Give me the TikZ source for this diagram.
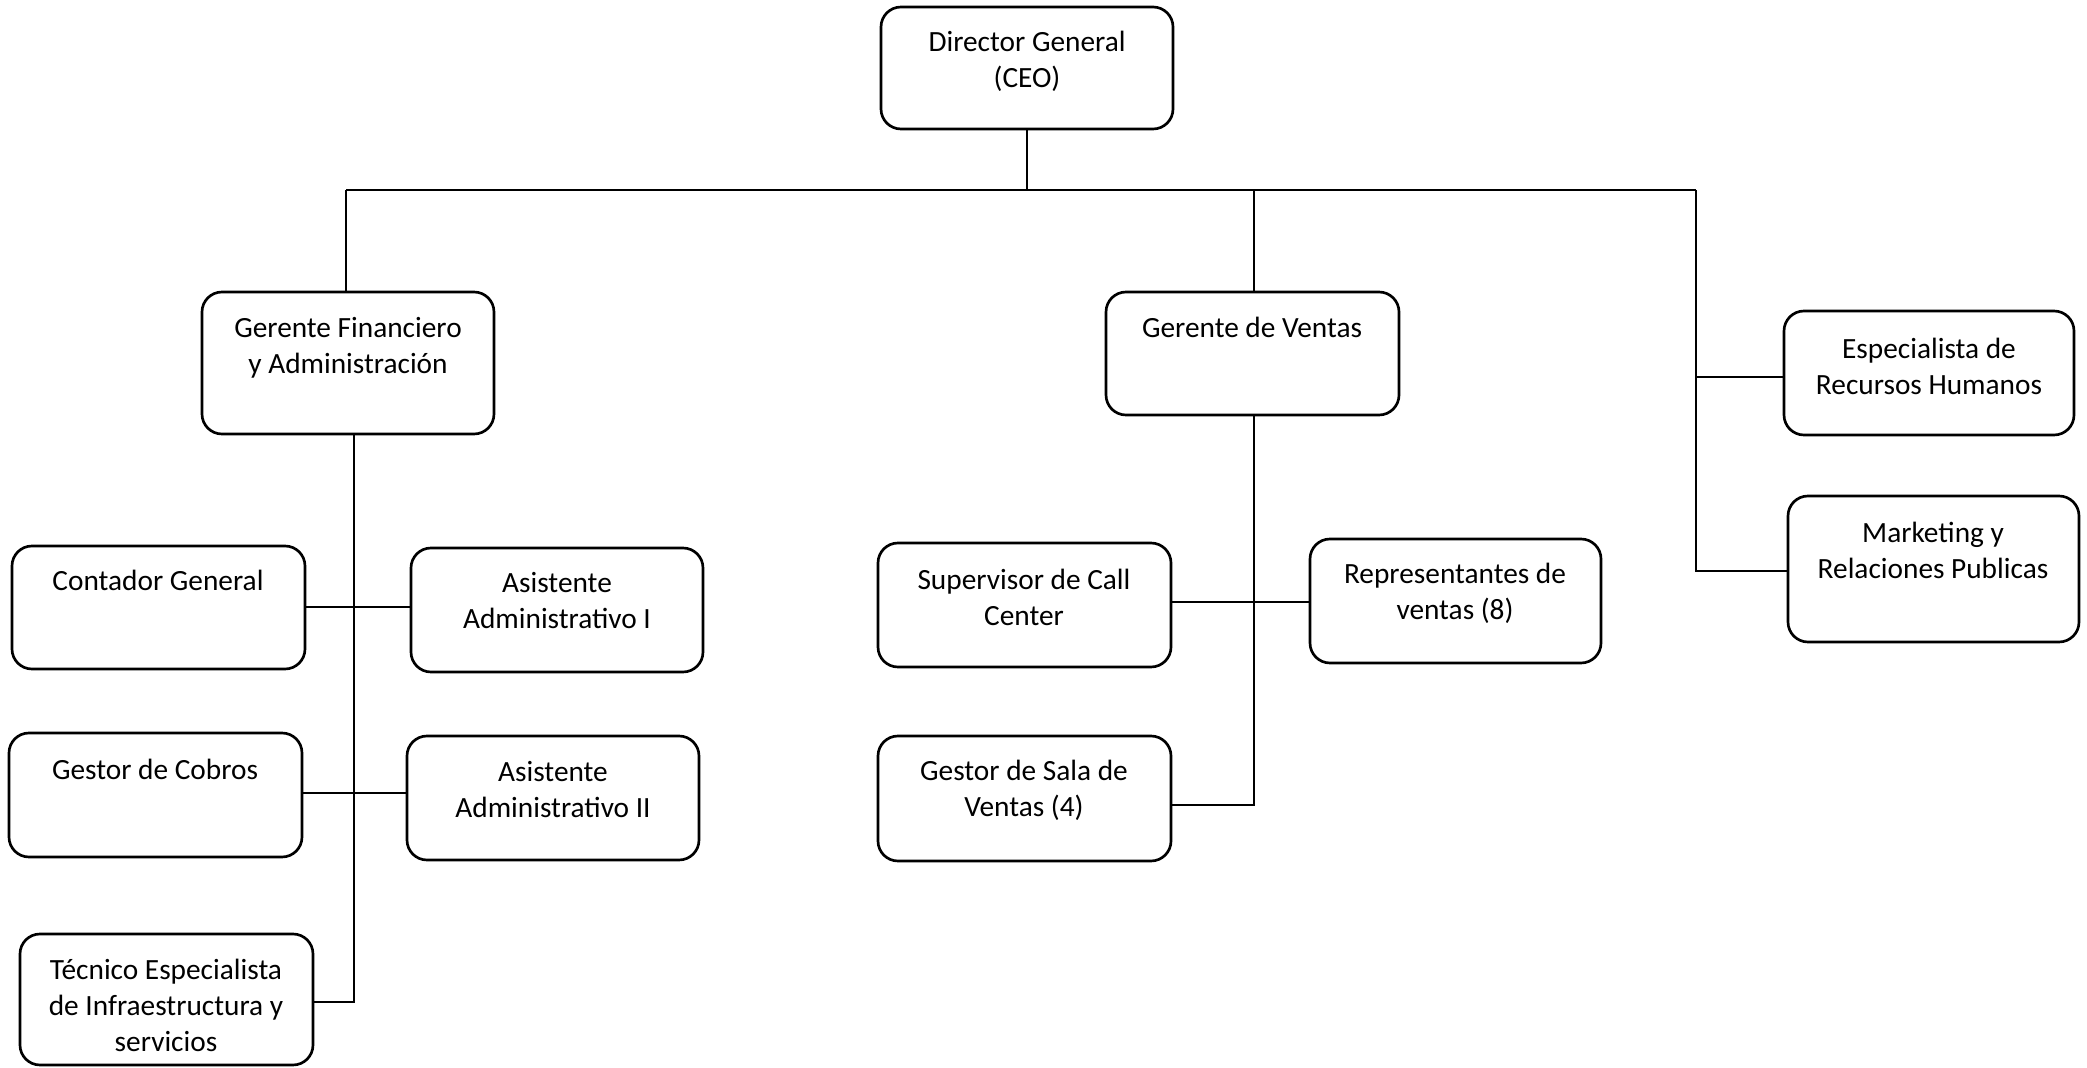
\documentclass[tikz,border=0pt]{standalone}
\usepackage{fontspec}
\setmainfont{Carlito}
\usetikzlibrary{fit}
\begin{document}
\begin{tikzpicture}[x=0.375pt,y=-0.375pt,
  box/.style={draw=black,line width=1pt,rounded corners=7.5pt,inner sep=0pt},
  lbl/.style={align=center,inner sep=0pt,font=\fontsize{11}{13.5}\selectfont},
  link/.style={draw=black,line width=0.8pt}]
\useasboundingbox (0,0) rectangle (2087,1068);

% boxes (corner coordinates)
\node[box,fit={(881,7) (1173,129)}]   (ceo) {};
\node[box,fit={(202,292) (494,434)}]  (gf)  {};
\node[box,fit={(1106,292) (1399,415)}] (gv) {};
\node[box,fit={(1784,311) (2074,435)}] (rh) {};
\node[box,fit={(1788,496) (2079,642)}] (mk) {};
\node[box,fit={(12,546) (305,669)}]   (cg)  {};
\node[box,fit={(411,548) (703,672)}]  (aa1) {};
\node[box,fit={(9,733) (302,857)}]    (gc)  {};
\node[box,fit={(407,736) (699,860)}]  (aa2) {};
\node[box,fit={(20,934) (313,1065)}]  (tec) {};
\node[box,fit={(878,543) (1171,667)}] (sup) {};
\node[box,fit={(1310,539) (1601,663)}] (rep) {};
\node[box,fit={(878,736) (1171,861)}] (gs)  {};

% labels
\node[lbl] (ceo-t) at (1027,61)  {Director General\\(CEO)};
\node[lbl] (gf-t)  at (348,348)  {Gerente Financiero\\y Administración};
\node[lbl] (gv-t)  at (1252,327) {Gerente de Ventas};
\node[lbl] (rh-t)  at (1929,366) {Especialista de\\Recursos Humanos};
\node[lbl] (mk-t)  at (1933,550) {Marketing y\\Relaciones Publicas};
\node[lbl] (cg-t)  at (158,580)  {Contador General};
\node[lbl] (aa1-t) at (557,601)  {Asistente\\Administrativo I};
\node[lbl] (gc-t)  at (155,769)  {Gestor de Cobros};
\node[lbl] (aa2-t) at (553,790)  {Asistente\\Administrativo II};
\node[lbl] (tec-t) at (166,1005) {Técnico Especialista\\de Infraestructura y\\servicios};
\node[lbl] (sup-t) at (1024,597) {Supervisor de Call\\Center};
\node[lbl] (rep-t) at (1455,593) {Representantes de\\ventas (8)};
\node[lbl] (gs-t)  at (1024,790) {Gestor de Sala de\\Ventas (4)};

% junction points
\coordinate (busL) at (346,190);
\coordinate (busM) at (1254,190);
\coordinate (busR) at (1696,190);
\coordinate (finEnd) at (354,1002);
\coordinate (venEnd) at (1254,805);
\coordinate (rhJ) at (1696,377);
\coordinate (mkJ) at (1696,571);
\coordinate (cgJ) at (354,607);
\coordinate (gcJ) at (354,793);
\coordinate (supJ) at (1254,602);

% top level
\draw[link] (ceo.south) -- (ceo.south |- busL);
\draw[link] (busL) -- (busR);
\draw[link] (busL) -- (busL |- gf.north);
\draw[link] (busM) -- (busM |- gv.north);
\draw[link] (busR) -- (mkJ) -- (mk.west |- mkJ);
\draw[link] (rhJ) -- (rh.west |- rhJ);

% finance branch
\draw[link] (gf.south -| finEnd) -- (finEnd) -- (tec.east |- finEnd);
\draw[link] (cg.east |- cgJ) -- (aa1.west |- cgJ);
\draw[link] (gc.east |- gcJ) -- (aa2.west |- gcJ);

% sales branch
\draw[link] (gv.south -| venEnd) -- (venEnd) -- (gs.east |- venEnd);
\draw[link] (sup.east |- supJ) -- (rep.west |- supJ);
\end{tikzpicture}
\end{document}
